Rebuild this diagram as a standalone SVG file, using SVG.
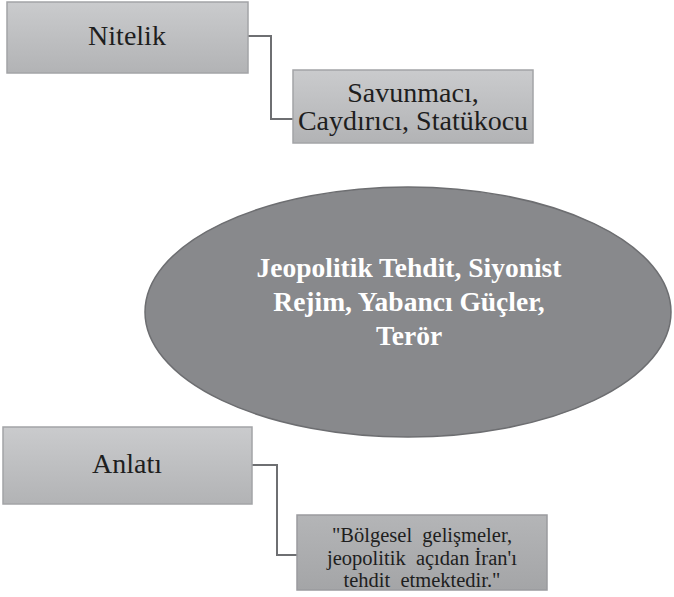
<svg xmlns="http://www.w3.org/2000/svg" width="674" height="597" viewBox="0 0 674 597">
<style>
.box{fill:url(#g);stroke:#a3a4a7;stroke-width:1.5}
.t{font-family:"Liberation Serif","Times New Roman",serif;fill:#1e1e1e;text-anchor:middle}
.q{white-space:pre}
.w{font-family:"Liberation Serif","Times New Roman",serif;fill:#ffffff;font-weight:bold;text-anchor:middle;font-size:27.5px}
.c{fill:none;stroke:#6e6f72;stroke-width:2}
</style>
<defs>
<linearGradient id="g" x1="0" y1="0" x2="0" y2="1">
<stop offset="0" stop-color="#cacbcd"/>
<stop offset="1" stop-color="#b2b3b5"/>
</linearGradient>
<linearGradient id="g2" x1="0" y1="0" x2="0" y2="1">
<stop offset="0" stop-color="#b4b5b7"/>
<stop offset="1" stop-color="#a4a5a7"/>
</linearGradient>
</defs>
<rect width="674" height="597" fill="#ffffff"/>
<g id="connectors">
<polyline class="c" points="248,36 271,36 271,119 293,119"/>
<polyline class="c" points="252,465 277,465 277,555 297,555"/>
</g>
<g id="nitelik">
<rect class="box" x="7" y="2" width="241" height="71"/>
<text class="t" x="127" y="45" font-size="28">Nitelik</text>
</g>
<g id="savunmaci">
<rect class="box" x="293" y="70" width="240" height="73"/>
<text class="t" x="413" y="102" font-size="28">Savunmacı,</text>
<text class="t" x="413" y="130" font-size="28">Caydırıcı, Statükocu</text>
</g>
<g id="tehdit">
<ellipse cx="408" cy="312" rx="263" ry="125" fill="#88898c" stroke="#6d6e71" stroke-width="1.5"/>
<text class="w" x="409" y="277">Jeopolitik Tehdit, Siyonist</text>
<text class="w" x="409" y="311">Rejim, Yabancı Güçler,</text>
<text class="w" x="409" y="345">Terör</text>
</g>
<g id="anlati">
<rect class="box" x="3" y="427" width="249" height="77"/>
<text class="t" x="127" y="473" font-size="28">Anlatı</text>
</g>
<g id="anlati-alinti">
<rect x="297" y="515" width="250" height="75" fill="url(#g2)" stroke="#9a9b9e" stroke-width="1.5"/>
<text class="t q" x="422" y="542" font-size="20.5">"Bölgesel  gelişmeler,</text>
<text class="t q" x="422" y="564.5" font-size="20.5">jeopolitik  açıdan İran'ı</text>
<text class="t q" x="422" y="586.5" font-size="20.5">tehdit  etmektedir."</text>
</g>
</svg>
